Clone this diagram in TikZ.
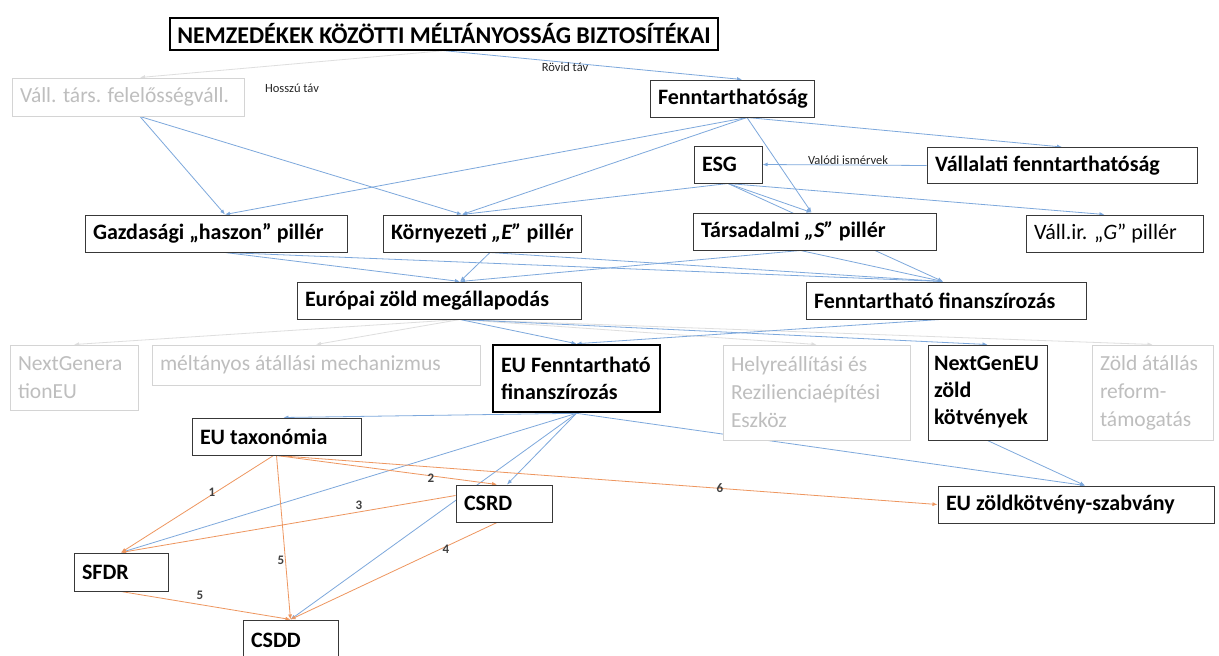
\documentclass[tikz,border=0pt]{standalone}
\usepackage{fontspec}
\setmainfont{Carlito}
\usetikzlibrary{arrows.meta,backgrounds}
\definecolor{lnblue}{RGB}{125,168,220}
\definecolor{lnorange}{RGB}{238,150,95}
\definecolor{faintline}{RGB}{222,222,222}
\definecolor{fainttext}{RGB}{190,190,190}
\definecolor{faintborder}{RGB}{212,212,212}
\begin{document}
\begin{tikzpicture}[x=1pt,y=-1pt,
  bx/.style={draw=black!78, line width=1pt, fill=white, inner xsep=8pt, inner ysep=1pt,
             align=flush left, font=\fontsize{22}{27}\selectfont\bfseries},
  gbx/.style={bx, draw=faintborder, text=fainttext, font=\fontsize{21.5}{28}\selectfont},
  blueln/.style={draw=lnblue, line width=0.8pt, -{Latex[length=5pt,width=4pt]}},
  orangeln/.style={draw=lnorange, line width=0.8pt, -{Latex[length=5pt,width=4pt]}},
  faintln/.style={draw=faintline, line width=0.8pt, -{Latex[length=5pt,width=4pt]}},
  lbl/.style={font=\fontsize{12.5}{14}\selectfont, inner sep=1pt, text=black!85},
  numlbl/.style={font=\fontsize{13}{14}\selectfont\bfseries, inner sep=1pt, text=black!75}
]
\useasboundingbox (0,0) rectangle (1219,656);

% ---- nodes ----
\node[bx, draw=black, line width=1.3pt, align=center, minimum width=548pt, minimum height=32pt,
      inner xsep=0pt, font=\fontsize{24}{28}\selectfont\bfseries] (title) at (444,34)
      {NEMZEDÉKEK KÖZÖTTI MÉLTÁNYOSSÁG BIZTOSÍTÉKAI};
\node[gbx, text width=216pt, minimum height=38pt] (vall) at (128,97) {\mbox{Váll. társ. felelősségváll.}};
\node[bx, text width=148pt, minimum height=37pt] (fenn) at (732,98.5) {\mbox{Fenntarthatóság}};
\node[bx, text width=52pt, minimum height=37pt] (esg) at (728,164.5) {ESG};
\node[bx, text width=254pt, minimum height=36pt] (vfenn) at (1062,165.5) {\mbox{Vállalati fenntarthatóság}};
\node[bx, text width=246pt, minimum height=37pt] (gazd) at (216,233.5) {\mbox{Gazdasági „haszon” pillér}};
\node[bx, text width=182pt, minimum height=37pt] (korny) at (482,233.5) {\mbox{Környezeti \textit{„E”} pillér}};
\node[bx, text width=227pt, minimum height=37pt] (tars) at (814.5,231.5) {\mbox{Társadalmi \textit{„S”} pillér}};
\node[bx, text width=161pt, minimum height=37pt, font=\fontsize{22}{28}\selectfont] (vallg) at (1114.5,233.5) {\mbox{Váll.ir. „\textit{G}” pillér}};
\node[bx, text width=268pt, minimum height=37pt] (europai) at (439,300.5) {\mbox{Európai zöld megállapodás}};
\node[bx, text width=264pt, minimum height=37pt] (fennfin) at (946,300.5) {\mbox{Fenntartható finanszírozás}};
\node[gbx, text width=112pt, minimum height=65pt] (nextgen) at (74,377.5) {NextGenera\\tionEU};
\node[gbx, text width=312pt, minimum height=40pt] (melt) at (316,365) {\mbox{méltányos átállási mechanizmus}};
\node[bx, draw=black, line width=2.6pt, text width=151pt, minimum height=67pt] (euff) at (576.5,378.5) {\mbox{EU Fenntartható}\\finanszírozás};
\node[gbx, text width=171pt, minimum height=95pt] (helyre) at (816.5,392.5) {\mbox{Helyreállítási és}\\\mbox{Rezilienciaépítési}\\Eszköz};
\node[bx, inner xsep=6pt, text width=107pt, minimum height=95pt] (ngeu) at (987.5,392.5) {NextGenEU\\zöld\\kötvények};
\node[gbx, text width=105pt, minimum height=95pt] (zold) at (1152.5,392.5) {\mbox{Zöld átállás}\\reform-\\támogatás};
\node[bx, text width=153pt, minimum height=37pt] (eutax) at (276.5,436.5) {\mbox{EU taxonómia}};
\node[bx, text width=80pt, minimum height=37pt] (csrd) at (504,503.5) {CSRD};
\node[bx, text width=260pt, minimum height=37pt] (euzks) at (1076,504.5) {\mbox{EU zöldkötvény-szabvány}};
\node[bx, text width=78pt, minimum height=38pt] (sfdr) at (121,572) {SFDR};
\node[bx, text width=79pt, minimum height=40pt] (csdd) at (290.5,640) {CSDD};

% ---- labels ----
\node[lbl] (lhossz) at (292,88) {Hosszú táv};
\node[lbl] (lrovid) at (565,67) {Rövid táv};
\node[lbl] (lvalodi) at (848,160) {Valódi ismérvek};
\node[numlbl] (n1) at (212,492) {1};
\node[numlbl] (n2) at (431,478) {2};
\node[numlbl] (n3) at (359,505) {3};
\node[numlbl] (n4) at (446,549) {4};
\node[numlbl] (n5a) at (281,560) {5};
\node[numlbl] (n5b) at (200,595) {5};
\node[numlbl] (n6) at (720,488) {6};

% ---- connectors ----
\begin{pgfonlayer}{background}
\fill[white] (0,0) rectangle (1219,656);
% faint
\draw[faintln] (title.south) -- ([xshift=12pt]vall.north);
\draw[faintln] ([xshift=21pt]europai.south) -- (nextgen.north);
\draw[faintln] ([xshift=21pt]europai.south) -- (melt.north);
\draw[faintln] ([xshift=21pt]europai.south) -- (helyre.north);
\draw[faintln] ([xshift=21pt]europai.south) -- (zold.north);
% blue
\draw[blueln] (title.south) -- ([xshift=10pt]fenn.north);
\draw[blueln] ([xshift=12pt]vall.south) -- ([xshift=9pt]gazd.north);
\draw[blueln] ([xshift=12pt]vall.south) -- ([xshift=-20pt]korny.north);
\draw[blueln] ([xshift=15pt]fenn.south) -- ([xshift=9pt]gazd.north);
\draw[blueln] ([xshift=15pt]fenn.south) -- ([xshift=-20pt]korny.north);
\draw[blueln] ([xshift=15pt]fenn.south) -- ([xshift=-3pt]tars.north);
\draw[blueln] ([xshift=15pt]fenn.south) -- (vfenn.north);
\draw[blueln] (vfenn.west) -- (esg.east);
\draw[blueln] (esg.south) -- ([xshift=-20pt]korny.north);
\draw[blueln] (esg.south) -- ([xshift=-3pt]tars.north);
\draw[blueln] (esg.south) -- ([xshift=-3pt]fennfin.north);
\draw[blueln] (esg.south) -- ([xshift=-10pt]vallg.north);
\draw[blueln] ([xshift=9pt]gazd.south) -- ([xshift=21pt]europai.north);
\draw[blueln] ([xshift=9pt]gazd.south) -- ([xshift=-3pt]fennfin.north);
\draw[blueln] ([xshift=8pt]korny.south) -- ([xshift=21pt]europai.north);
\draw[blueln] ([xshift=8pt]korny.south) -- ([xshift=-3pt]fennfin.north);
\draw[blueln] ([xshift=-14pt]tars.south) -- ([xshift=21pt]europai.north);
\draw[blueln] ([xshift=-14pt]tars.south) -- ([xshift=-3pt]fennfin.north);
\draw[blueln] ([xshift=21pt]europai.south) -- (euff.north);
\draw[blueln] ([xshift=21pt]europai.south) -- (ngeu.north);
\draw[blueln] ([xshift=-6pt]fennfin.south) -- (euff.north);
\draw[blueln] (euff.south) -- ([xshift=7pt]eutax.north);
\draw[blueln] (euff.south) -- ([xshift=3pt]csrd.north);
\draw[blueln] (euff.south) -- (csdd.north);
\draw[blueln] (euff.south) -- (sfdr.north);
\draw[blueln] (euff.south) -- ([xshift=9pt]euzks.north);
\draw[blueln] (ngeu.south) -- ([xshift=9pt]euzks.north);
% orange
\draw[orangeln] ([xshift=-3pt]eutax.south) -- (sfdr.north);
\draw[orangeln] (eutax.south) -- ([xshift=-7pt]csrd.north);
\draw[orangeln] (eutax.south) -- (csdd.north);
\draw[orangeln] (eutax.south) -- (euzks.west);
\draw[orangeln] ([yshift=8pt]csrd.west) -- (sfdr.north);
\draw[orangeln] ([xshift=-7pt]csrd.south) -- (csdd.north);
\draw[orangeln] (sfdr.south) -- (csdd.north);
\end{pgfonlayer}
\end{tikzpicture}
\end{document}
